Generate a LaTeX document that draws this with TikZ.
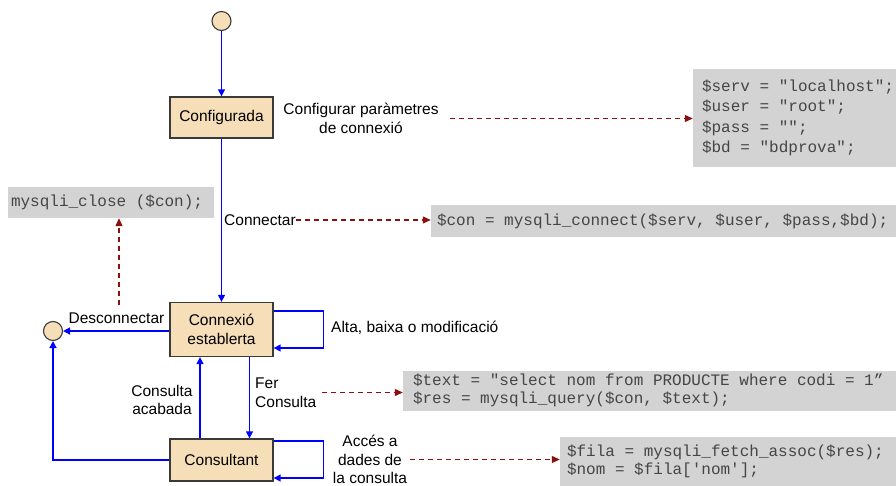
\documentclass[tikz,border=0pt]{standalone}
\usepackage{fontspec}
\setmainfont{Liberation Sans}
\setmonofont{Liberation Mono}
\usetikzlibrary{arrows.meta}
\definecolor{boxfill}{HTML}{F5DEB8}
\definecolor{boxline}{HTML}{3A3A3A}
\definecolor{codegray}{HTML}{D3D3D3}
\definecolor{codetext}{HTML}{454545}
\definecolor{flowblue}{HTML}{0000FF}
\definecolor{depred}{HTML}{8B1010}
\newcommand{\codefont}[1]{\fontsize{16}{#1}\selectfont\ttfamily}
\newcommand{\csp}{\hbox to 0.6em{}}
\tikzset{
  statebox/.style={draw=boxline, line width=1.3pt, fill=boxfill, minimum width=103pt, inner sep=0pt,
    font=\fontsize{15.5}{19}\selectfont, align=center},
  circ/.style={circle, draw=boxline, line width=1.1pt, fill=boxfill, minimum size=19pt, inner sep=0pt},
  flow/.style={draw=flowblue, line width=1.4pt, -{Triangle[length=7pt,width=7pt]}},
  dep/.style={draw=depred, line width=1.1pt, dash pattern=on 5pt off 4pt, -{Triangle[length=8pt,width=7pt]}},
  lbl/.style={inner sep=0pt, font=\fontsize{15.5}{18.5}\selectfont},
  codebox/.style={fill=codegray, text=codetext, inner ysep=0pt, align=left, font=\codefont{20}},
}
\begin{document}
\begin{tikzpicture}[x=1pt,y=-1pt]
\useasboundingbox (0,0) rectangle (896,486);

% states
\node[circ] (start) at (221.5,21) {};
\node[statebox, minimum height=41pt] (conf) at (221.5,117.5) {Configurada};
\node[statebox, minimum height=54pt] (conn) at (221.5,329.5) {Connexió\\establerta};
\node[statebox, minimum height=42pt] (cons) at (221.5,460) {Consultant};
\node[circ] (end) at (53,331) {};

% code boxes
\node[codebox, minimum width=203pt, minimum height=98pt, inner xsep=9pt, text width=185pt,
  font=\codefont{20.3}] (code1) at (794.5,118)
  {\$serv\csp=\csp"localhost";\\\$user\csp=\csp"root";\\\$pass\csp=\csp"";\\\$bd\csp=\csp"bdprova";};
\node[codebox, minimum width=465pt, minimum height=32pt, inner xsep=6pt, text width=453pt] (code2) at (663.5,221)
  {\$con\csp=\csp mysqli\_connect(\$serv,\csp\$user,\csp\$pass,\$bd);};
\node[codebox, minimum width=206pt, minimum height=31pt, inner xsep=3pt, text width=200pt] (close) at (111,202.5)
  {mysqli\_close\csp(\$con);};
\node[codebox, minimum width=493pt, minimum height=40pt, inner xsep=10pt, text width=473pt,
  font=\codefont{17.5}] (code3) at (649.5,390.5)
  {\$text\csp=\csp"select\csp nom\csp from\csp PRODUCTE\csp where\csp codi\csp=\csp1”\\\$res\csp=\csp mysqli\_query(\$con,\csp\$text);};
\node[codebox, minimum width=336pt, minimum height=49pt, inner xsep=7pt, text width=322pt,
  font=\codefont{17.5}] (code4) at (728,461.5)
  {\$fila\csp=\csp mysqli\_fetch\_assoc(\$res);\\\$nom\csp=\csp\$fila['nom'];};

% labels
\node[lbl, align=center] (lconf) at (361,118.5) {Configurar paràmetres\\de connexió};
\node[lbl, anchor=west] (lcon) at (224,220) {Connectar};
\node[lbl] (ldes) at (116.5,318) {Desconnectar};
\node[lbl, anchor=west] (lalta) at (331,328) {Alta, baixa o modificació};
\node[lbl, align=center] (lacab) at (162,400) {Consulta\\acabada};
\node[lbl, anchor=west, align=left] (lfer) at (255,392.5) {Fer\\Consulta};
\node[lbl, align=center] (lacc) at (370,459.5) {Accés a\\dades de\\la consulta};
\coordinate (dstart) at (119,305);

% state transitions
\draw[flow] (start) -- (conf);
\draw[flow] (conf) -- (conn);
\draw[flow] (end -| conn.west) -- (end);
\draw[flow] ([yshift=18.5pt]conn.east) -- ++(50,0) -- ++(0,37) -- ([yshift=-18.5pt]conn.east);
\draw[flow] ([xshift=-21.5pt]cons.north) -- ([xshift=-21.5pt]conn.south);
\draw[flow] ([xshift=28pt]conn.south) -- ([xshift=28pt]cons.north);
\draw[flow] ([yshift=19pt]cons.east) -- ++(50,0) -- ++(0,37) -- ([yshift=-18pt]cons.east);
\draw[flow] (cons.west) -| (end.south);

% dependencies
\draw[dep] ([xshift=11pt]lconf.east) -- (code1.west |- lconf.east);
\draw[dep] (lcon.east) -- (code2.west |- lcon.east);
\draw[dep] (dstart) -- (dstart |- close.south);
\draw[dep] ([xshift=5pt]lfer.east) -- (code3.west |- lfer.east);
\draw[dep] ([xshift=3pt]lacc.east) -- (code4.west |- lacc.east);
\end{tikzpicture}
\end{document}
